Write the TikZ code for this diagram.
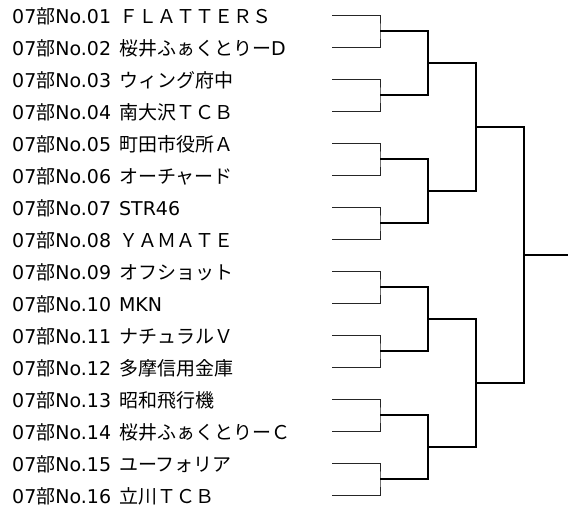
\documentclass[tikz,border=0pt]{standalone}
\usepackage{fontspec}
\setmainfont{DejaVu Sans}
\newfontfamily\jpfont{Noto Sans CJK JP}
\newcommand\jp[1]{{\jpfont #1}}
\usepackage{tikz}
\usetikzlibrary{calc}

\begin{document}
\begin{tikzpicture}[x=1pt, y=-1pt,
    team/.style={anchor=base west, inner sep=0pt, font=\fontsize{19}{22}\selectfont},
    leaf/.style={line width=1pt, black!85},
    semi/.style={line width=1.4pt},
    quarter/.style={line width=1.7pt},
    half/.style={line width=2.3pt},
    final/.style={line width=1.7pt}]
    \useasboundingbox (0,0) rectangle (568,515);

    \foreach \n/\name [count=\i] in {01/\jp{ＦＬＡＴＴＥＲＳ}, 02/\jp{桜井ふぁくとりー}D, 03/\jp{ウィング府中}, 04/\jp{南大沢ＴＣＢ},
        05/\jp{町田市役所Ａ}, 06/\jp{オーチャード}, 07/STR46, 08/\jp{ＹＡＭＡＴＥ},
        09/\jp{オフショット}, 10/MKN, 11/\jp{ナチュラルＶ}, 12/\jp{多摩信用金庫},
        13/\jp{昭和飛行機}, 14/\jp{桜井ふぁくとりーＣ}, 15/\jp{ユーフォリア}, 16/\jp{立川ＴＣＢ}} {
        \node (t\i) [team] at (12,{23+32*(\i-1)}) {07\jp{部}No.\n\hspace{8pt}\name};
        \coordinate (a\i) at (332,{15+32*(\i-1)});
    }

    \foreach \k in {1,...,8} {
        \pgfmathtruncatemacro\p{2*\k-1}
        \pgfmathtruncatemacro\q{2*\k}
        \coordinate (b\k) at ($(a\p)!.5!(a\q)+(48,0)$);
        \draw[leaf] (a\p) -| (b\k) |- (a\q);
    }
    \foreach \k in {1,...,4} {
        \pgfmathtruncatemacro\p{2*\k-1}
        \pgfmathtruncatemacro\q{2*\k}
        \coordinate (c\k) at ($(b\p)!.5!(b\q)+(48,0)$);
        \draw[semi] (b\p) -| (c\k) |- (b\q);
    }
    \coordinate (d1) at ($(c1)!.5!(c2)+(48,0)$);
    \coordinate (d2) at ($(c3)!.5!(c4)+(48,0)$);
    \draw[quarter] (c1) -| (d1) |- (c2);
    \draw[quarter] (c3) -| (d2) |- (c4);

    \coordinate (e) at ($(d1)!.5!(d2)+(48,0)$);
    \coordinate (champ) at ($(e)+(44,0)$);
    \draw[half] (d1) -| (e) |- (d2);
    \draw[final] (e) -- (champ);
\end{tikzpicture}
\end{document}
